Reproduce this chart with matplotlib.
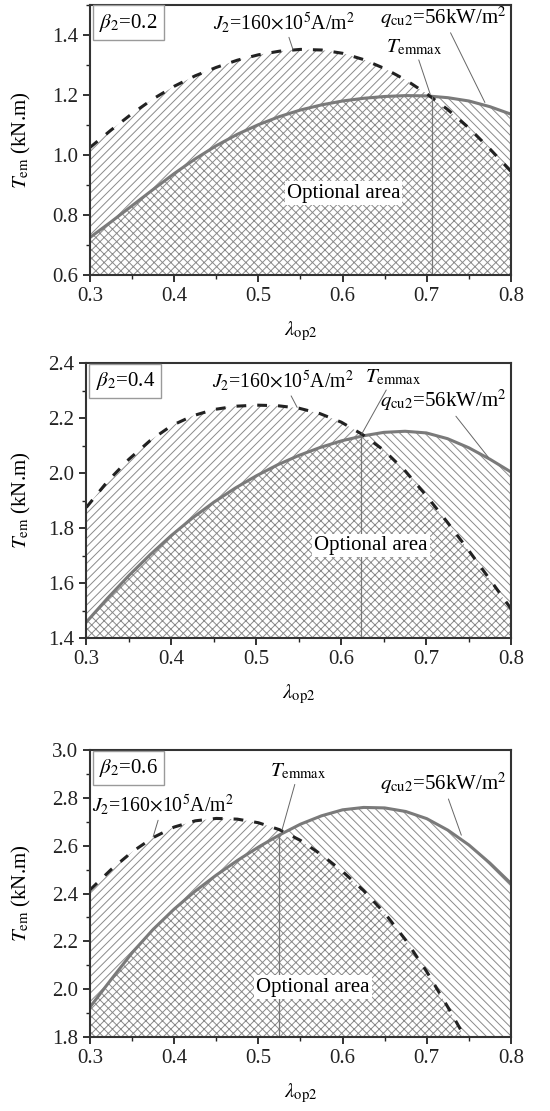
import numpy as np
import matplotlib.pyplot as plt
from matplotlib.ticker import MultipleLocator

plt.rcParams['font.family'] = ['Liberation Serif', 'DejaVu Serif']
plt.rcParams['mathtext.fontset'] = 'stix'
plt.rcParams['hatch.linewidth'] = 0.7

# lambda_op2 grid
lam = [0.300, 0.325, 0.350, 0.375, 0.400, 0.425, 0.450, 0.475, 0.500, 0.525, 0.550,
       0.575, 0.600, 0.625, 0.650, 0.675, 0.700, 0.725, 0.750, 0.775, 0.800]

# beta2 = 0.2
j_02 = [1.025, 1.083, 1.138, 1.187, 1.229, 1.264, 1.292, 1.316, 1.334, 1.346, 1.352,
        1.350, 1.339, 1.318, 1.288, 1.250, 1.204, 1.151, 1.090, 1.020, 0.945]
q_02 = [0.725, 0.777, 0.831, 0.885, 0.938, 0.987, 1.031, 1.069, 1.101, 1.128, 1.150,
        1.167, 1.180, 1.189, 1.195, 1.198, 1.197, 1.191, 1.180, 1.161, 1.136]

# beta2 = 0.4
j_04 = [1.875, 1.970, 2.050, 2.118, 2.172, 2.208, 2.231, 2.243, 2.247, 2.245, 2.236,
        2.216, 2.185, 2.140, 2.083, 2.008, 1.918, 1.820, 1.718, 1.612, 1.505]
q_04 = [1.458, 1.545, 1.627, 1.703, 1.773, 1.837, 1.894, 1.945, 1.990, 2.030, 2.064,
        2.093, 2.117, 2.135, 2.148, 2.152, 2.146, 2.125, 2.092, 2.050, 2.003]

# beta2 = 0.6
j_06 = [2.415, 2.500, 2.574, 2.634, 2.678, 2.704, 2.714, 2.711, 2.696, 2.667, 2.622,
        2.562, 2.492, 2.412, 2.318, 2.205, 2.073, 1.925, 1.770, 1.610, 1.450]
q_06 = [1.925, 2.040, 2.152, 2.250, 2.335, 2.410, 2.477, 2.538, 2.594, 2.645, 2.690,
        2.725, 2.750, 2.760, 2.758, 2.743, 2.713, 2.665, 2.603, 2.527, 2.442]

betas = ['0.2', '0.4', '0.6']
ylims = [(0.6, 1.5), (1.4, 2.4), (1.8, 3.0)]
t_max_x = [0.706, 0.623, 0.525]

# annotation placement (data coords): text position, arrow end
j_lbl = [((0.446, 1.443), (0.541, 1.352)), ((0.448, 2.336), (0.548, 2.239)), ((0.302, 2.77), (0.375, 2.637))]
q_lbl = [((0.644, 1.459), (0.769, 1.175)), ((0.646, 2.263), (0.773, 2.057)), ((0.644, 2.86), (0.741, 2.644))]
t_lbl = [((0.652, 1.359), (0.704, 1.203)), ((0.628, 2.348), (0.624, 2.142)), ((0.514, 2.909), (0.528, 2.665))]
opt_lbl = [(0.601, 0.873), (0.635, 1.737), (0.565, 2.009)]

positions = [[0.1636, 0.7525, 0.7655, 0.243],
             [0.1570, 0.4257, 0.7727, 0.2475],
             [0.1636, 0.0666, 0.7655, 0.2583]]

fig = plt.figure(figsize=(5.5, 11.11), dpi=100)
hc = '#8a8a8a'
fs = 15

for i, (J, Q) in enumerate([(j_02, q_02), (j_04, q_04), (j_06, q_06)]):
    ax = fig.add_axes(positions[i])
    x = np.array(lam)
    J = np.array(J)
    Q = np.array(Q)
    y0, y1 = ylims[i]
    low = np.minimum(J, Q)
    ax.fill_between(x, y0, low, facecolor='white', edgecolor=hc, hatch='xxxx', linewidth=0)
    ax.fill_between(x, Q, J, where=J >= Q, interpolate=True, facecolor='white',
                    edgecolor=hc, hatch='////', linewidth=0)
    ax.fill_between(x, J, Q, where=Q >= J, interpolate=True, facecolor='white',
                    edgecolor=hc, hatch='\\\\\\\\', linewidth=0)
    ax.plot(x, Q, color='#7a7a7a', lw=2.2, zorder=3)
    ax.plot(x, J, color='#222222', lw=2.2, dashes=(3.2, 3.6), zorder=3)

    xt = t_max_x[i]
    yt = np.interp(xt, x, Q)
    ax.vlines(xt, y0, yt, color='#777777', lw=0.9, zorder=3)

    ax.set_xlim(0.3, 0.8)
    ax.set_ylim(y0, y1)
    ax.xaxis.set_major_locator(MultipleLocator(0.1))
    ax.xaxis.set_minor_locator(MultipleLocator(0.05))
    ax.yaxis.set_major_locator(MultipleLocator(0.2))
    ax.yaxis.set_minor_locator(MultipleLocator(0.1))
    ax.tick_params(which='major', direction='out', length=5, width=1.3, labelsize=fs, colors='#222222')
    ax.tick_params(which='minor', direction='out', length=3, width=1.0, colors='#222222')
    ax.set_xticklabels([f'{v:.1f}' for v in ax.get_xticks()])
    ax.set_yticklabels([f'{v:.1f}' for v in ax.get_yticks()])
    for s in ax.spines.values():
        s.set_linewidth(1.5)
        s.set_color('#333333')
        s.set_zorder(5)

    ax.set_xlabel(r'$\lambda_{\rm op2}$', fontsize=fs, labelpad=10)
    ax.set_ylabel(r'$T_{\rm em}$ (kN.m)', fontsize=fs)
    left_px = positions[i][0] * 550
    width_px = positions[i][2] * 550
    ax.yaxis.set_label_coords((33 - left_px) / width_px, 0.5)

    ax.text(0.022, 0.975, r'$\beta_2$=' + betas[i], transform=ax.transAxes, fontsize=fs,
            va='top', ha='left', zorder=6,
            bbox=dict(boxstyle='square,pad=0.3', fc='white', ec='#9a9a9a', lw=1.0))

    arrow = dict(arrowstyle='-', color='#666666', lw=0.7, shrinkA=0, shrinkB=0)
    (tx, ty), (ax_, ay_) = j_lbl[i]
    ax.annotate(r'$J_2$=160$\times$10$^5$A/m$^2$', xy=(ax_, ay_), xytext=(tx, ty),
                fontsize=14.2, va='center', ha='left', arrowprops=arrow, zorder=6)
    (tx, ty), (ax_, ay_) = q_lbl[i]
    ax.annotate(r'$q_{\rm cu2}$=56kW/m$^2$', xy=(ax_, ay_), xytext=(tx, ty),
                fontsize=fs, va='center', ha='left', arrowprops=arrow, zorder=6)
    (tx, ty), (ax_, ay_) = t_lbl[i]
    ax.annotate(r'$T_{\rm emmax}$', xy=(ax_, ay_), xytext=(tx, ty),
                fontsize=fs, va='center', ha='left', arrowprops=arrow, zorder=6)
    ox, oy = opt_lbl[i]
    ax.text(ox, oy, 'Optional area', fontsize=fs, ha='center', va='center', zorder=6,
            bbox=dict(boxstyle='square,pad=0.1', fc='white', ec='none'))

fig.savefig('out.png', dpi=100)
